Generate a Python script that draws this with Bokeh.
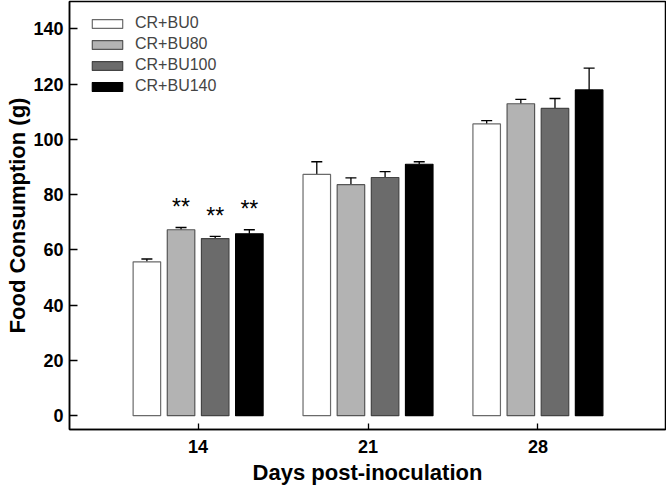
from bokeh.plotting import figure
from bokeh.models import ColumnDataSource, FixedTicker, Whisker, TeeHead, Legend, LegendItem
from bokeh.core.properties import value
from bokeh.embed import file_html
from bokeh.resources import INLINE

days = ["14", "21", "28"]
series = ["CR+BU0", "CR+BU80", "CR+BU100", "CR+BU140"]
bu0 = [55.7, 87.3, 105.6]
bu80 = [67.3, 83.6, 112.9]
bu100 = [64.1, 86.2, 111.2]
bu140 = [65.8, 91.0, 117.9]
err_bu0 = [1.0, 4.6, 1.2]
err_bu80 = [0.8, 2.5, 1.6]
err_bu100 = [0.8, 2.1, 3.6]
err_bu140 = [1.5, 0.9, 7.9]
signif_bu0 = ["", "", ""]
signif_bu80 = ["**", "", ""]
signif_bu100 = ["**", "", ""]
signif_bu140 = ["**", "", ""]
y_ticks = [0, 20, 40, 60, 80, 100, 120, 140]

values = [bu0, bu80, bu100, bu140]
errs = [err_bu0, err_bu80, err_bu100, err_bu140]
sigs = [signif_bu0, signif_bu80, signif_bu100, signif_bu140]
fills = ["#ffffff", "#b3b3b3", "#6b6b6b", "#000000"]
outlines = ["#6a6a6a", "#555555", "#444444", "#000000"]

FONT = "Liberation Sans"

p = figure(width=666, height=488, x_range=(-0.757, 2.751), y_range=(-5, 149.9),
           output_backend="svg", toolbar_location=None,
           min_border_left=69, min_border_right=1, min_border_top=1, min_border_bottom=59)
p.background_fill_color = "white"
p.border_fill_color = "white"
p.xgrid.visible = False
p.ygrid.visible = False
p.outline_line_color = "black"
p.outline_line_width = 1.5

step = 0.201
width = 0.162
legend_items = []
for i, (name, vals, er, sg) in enumerate(zip(series, values, errs, sigs)):
    off = (i - 1.5) * step
    xs = [k + off for k in range(len(days))]
    src = ColumnDataSource(dict(x=xs, top=vals,
                                upper=[v + e for v, e in zip(vals, er)],
                                star_y=[v + e + 7.5 for v, e in zip(vals, er)],
                                star=sg))
    r = p.vbar(x="x", top="top", bottom=0, width=width, source=src,
               fill_color=fills[i], line_color=outlines[i], line_width=1.2)
    w = Whisker(base="x", lower="top", upper="upper", source=src,
                line_color="black", line_width=1.3,
                upper_head=TeeHead(size=11, line_color="black", line_width=1.3),
                lower_head=None, level="underlay")
    p.add_layout(w)
    p.text(x="x", y="star_y", text="star", source=src, text_align="center",
           text_baseline="middle", text_font=value(FONT), text_font_size="23px",
           text_color="black")
    legend_items.append(LegendItem(label=name, renderers=[r]))

legend = Legend(items=legend_items, location=(19, 334))
legend.label_text_font = FONT
legend.label_text_font_size = "16px"
legend.glyph_width = 38
legend.glyph_height = 11
legend.label_height = 17
legend.spacing = 3
legend.padding = 2
legend.margin = 0
legend.border_line_color = None
legend.background_fill_alpha = 0
legend.label_standoff = 9
p.add_layout(legend, "center")

p.xaxis.ticker = FixedTicker(ticks=[0, 1, 2])
p.xaxis.major_label_overrides = {0: days[0], 1: days[1], 2: days[2]}
p.yaxis.ticker = FixedTicker(ticks=y_ticks)
for ax in (p.xaxis, p.yaxis):
    ax.major_tick_in = 8
    ax.major_tick_out = 0
    ax.minor_tick_line_color = None
    ax.axis_line_width = 1.5
    ax.major_tick_line_width = 1.3
    ax.major_label_text_font = FONT
    ax.major_label_text_font_style = "bold"
    ax.major_label_text_font_size = "18px"
    ax.major_label_text_color = "black"
    ax.axis_label_text_font = FONT
    ax.axis_label_text_font_style = "bold"
    ax.axis_label_text_font_size = "22px"
    ax.axis_label_text_color = "black"
p.xaxis.major_tick_in = 6
p.xaxis.axis_label = "Days post-inoculation"
p.yaxis.axis_label = "Food Consumption (g)"
p.xaxis.major_label_standoff = 10
p.xaxis.axis_label_standoff = 4
p.yaxis.major_label_standoff = 6
p.yaxis.axis_label_standoff = 0

open("out.html", "w").write(file_html(p, INLINE))
